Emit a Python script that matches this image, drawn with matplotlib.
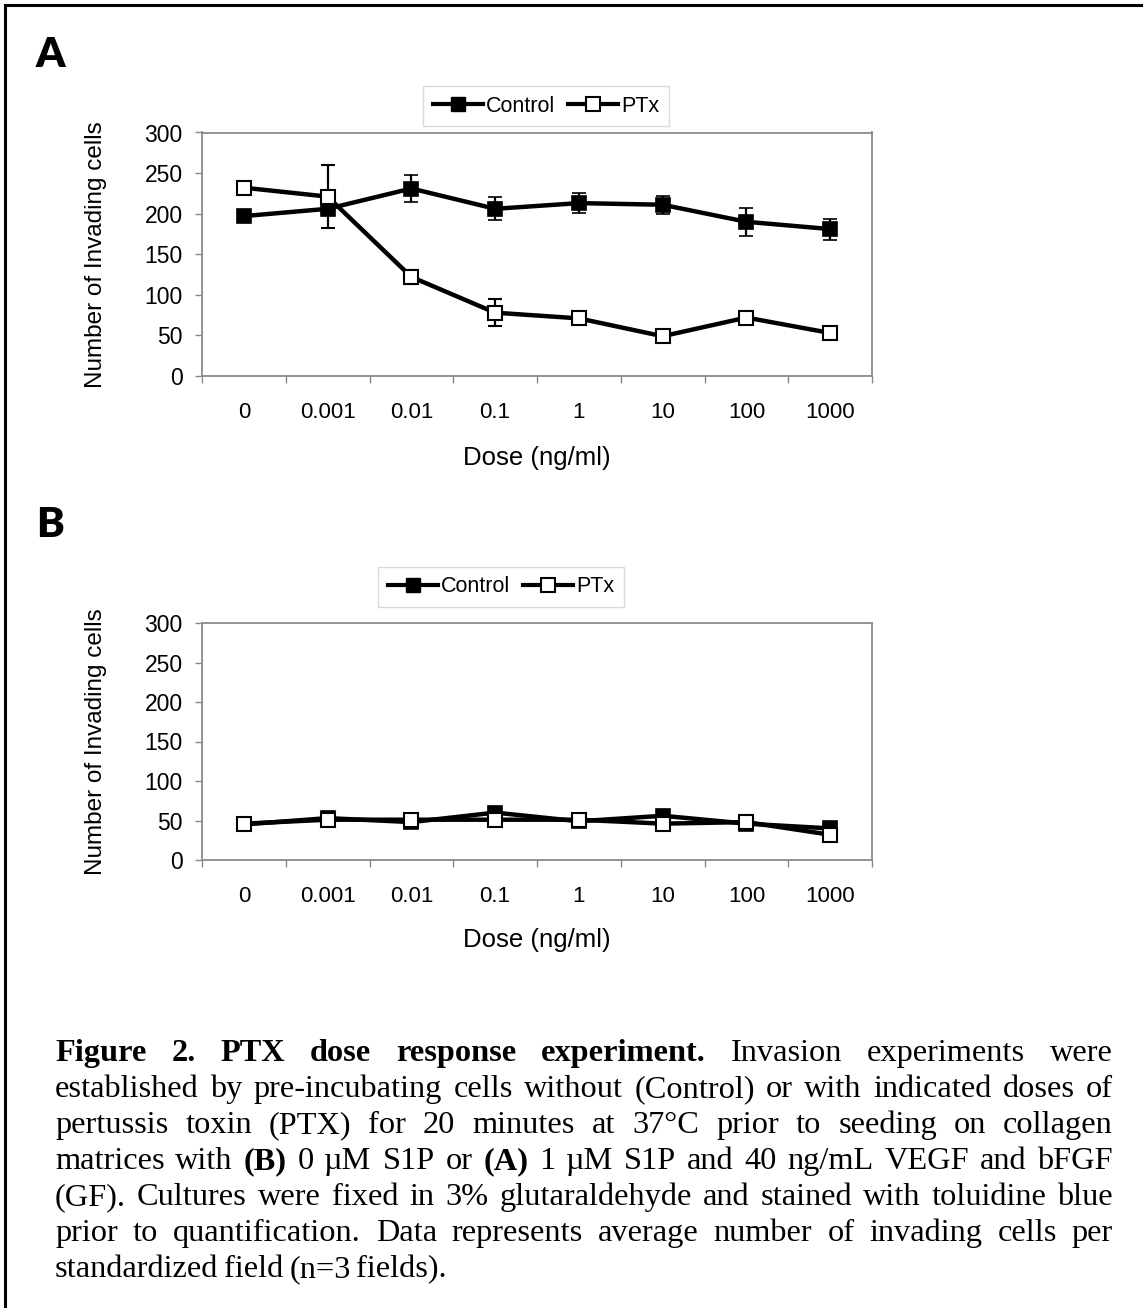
import matplotlib
matplotlib.use("Agg")
from matplotlib import pyplot as plt
from matplotlib.patches import Rectangle
from matplotlib.lines import Line2D
from matplotlib.ticker import FixedLocator, NullFormatter
import numpy as np

doses = ["0", "0.001", "0.01", "0.1", "1", "10", "100", "1000"]

# panel A (S1P + GF)
ctrl_a = [197, 206, 231, 206, 213, 211, 190, 181]
ctrl_a_err = [4, 8, 17, 14, 12, 11, 17, 13]
ptx_a = [232, 221, 122, 78, 71, 49, 72, 53]
ptx_a_err = [4, 39, 9, 17, 4, 4, 4, 4]

# panel B (no S1P)
ctrl_b = [45, 53, 48, 60, 49, 56, 46, 40]
ctrl_b_err = [3, 3, 3, 3, 3, 3, 3, 3]
ptx_b = [46, 51, 51, 51, 51, 46, 48, 32]
ptx_b_err = [3, 3, 3, 3, 3, 3, 3, 3]

W, H = 1143, 1308
fig = plt.figure(figsize=(W / 100, H / 100), dpi=100)
plt.rcParams["font.family"] = ["Liberation Sans", "DejaVu Sans"]

# outer border (only top and left are inside the picture)
fig.add_artist(Rectangle((4.5 / W, -0.02), 1.2, 1 - 4.5 / H + 0.02, transform=fig.transFigure,
                         fill=False, edgecolor="black", linewidth=2.2))


def panel(rect, ctrl, ctrl_err, ptx, ptx_err, leg_xy):
    ax = fig.add_axes(rect)
    x = np.arange(len(doses)) + 0.5
    ax.errorbar(x, ctrl, yerr=ctrl_err, color="black", lw=3.2, marker="s", ms=10.5,
                mfc="black", mec="black", mew=1.2, ecolor="black", elinewidth=1.6,
                capsize=5, capthick=1.6, zorder=3)
    ax.errorbar(x, ptx, yerr=ptx_err, color="black", lw=3.2, marker="s", ms=10.5,
                mfc="white", mec="black", mew=1.5, ecolor="black", elinewidth=1.6,
                capsize=5, capthick=1.6, zorder=4)
    ax.set_xlim(0, len(doses))
    ax.set_ylim(0, 300)
    ax.set_yticks(range(0, 301, 50))
    ax.xaxis.set_major_locator(FixedLocator(np.arange(len(doses) + 1)))
    ax.xaxis.set_major_formatter(NullFormatter())
    ax.set_xticks(x, minor=True)
    ax.set_xticklabels(doses, minor=True)
    ax.tick_params(axis="x", which="minor", length=0, pad=19, labelsize=16)
    ax.tick_params(axis="x", which="major", length=5, color="#8a8a8a", width=1)
    ax.tick_params(axis="y", length=5, color="#8a8a8a", width=1, pad=9, labelsize=16.5)
    for s in ax.spines.values():
        s.set_color("#8a8a8a")
        s.set_linewidth(1.3)
    ax.set_ylabel("Number of Invading cells", fontsize=17.5)
    ax.yaxis.set_label_coords(-0.142, 0.5)
    ax.set_xlabel("Dose (ng/ml)", fontsize=18.5)
    ax.xaxis.set_label_coords(0.5, -0.337)
    ax.xaxis.label.set_va("center")
    hc = Line2D([], [], color="black", lw=3, marker="s", ms=10, mfc="black", mec="black")
    hp = Line2D([], [], color="black", lw=3, marker="s", ms=10, mfc="white", mec="black", mew=1.5)
    leg = ax.legend([hc, hp], ["Control", "PTx"], loc="center", ncol=2,
                    bbox_to_anchor=leg_xy, bbox_transform=fig.transFigure,
                    fontsize=15.5, frameon=True, fancybox=False, edgecolor="#d0d0d0",
                    handlelength=2.3, handletextpad=0.15, columnspacing=0.6,
                    borderpad=0.45, borderaxespad=0)
    leg.get_frame().set_linewidth(1.0)
    return ax


axA = panel([202 / W, 1 - 376 / H, 670 / W, 243.5 / H], ctrl_a, ctrl_a_err, ptx_a, ptx_a_err,
            (546 / W, 1 - 106 / H))
axB = panel([202 / W, 1 - 860 / H, 670 / W, 237 / H], ctrl_b, ctrl_b_err, ptx_b, ptx_b_err,
            (501 / W, 1 - 587 / H))

fig.text(36 / W, 1 - 67 / H, "A", fontsize=30, fontweight="heavy", family=["Lato", "DejaVu Sans"],
         va="baseline", ha="left")
fig.text(36 / W, 1 - 537 / H, "B", fontsize=30, fontweight="heavy", family=["Lato", "DejaVu Sans"],
         va="baseline", ha="left")

# caption, justified by hand
caption = [
    [("Figure", 1), ("2.", 1), ("PTX", 1), ("dose", 1), ("response", 1), ("experiment.", 1),
     ("Invasion", 0), ("experiments", 0), ("were", 0)],
    [(w, 0) for w in "established by pre-incubating cells without (Control) or with indicated doses of".split()],
    [(w, 0) for w in "pertussis toxin (PTX) for 20 minutes at 37°C prior to seeding on collagen".split()],
    [("matrices", 0), ("with", 0), ("(B)", 1), ("0", 0), ("µM", 0), ("S1P", 0), ("or", 0), ("(A)", 1),
     ("1", 0), ("µM", 0), ("S1P", 0), ("and", 0), ("40", 0), ("ng/mL", 0), ("VEGF", 0), ("and", 0),
     ("bFGF", 0)],
    [(w, 0) for w in "(GF). Cultures were fixed in 3% glutaraldehyde and stained with toluidine blue".split()],
    [(w, 0) for w in "prior to quantification. Data represents average number of invading cells per".split()],
    [(w, 0) for w in "standardized field (n=3 fields).".split()],
]
x0, x1 = 55, 1113
renderer = fig.canvas.get_renderer()
for i, line in enumerate(caption):
    y = 1 - (1061 + 36 * i) / H
    texts = []
    for word, bold in line:
        t = fig.text(0, y, word, fontsize=23.3, family=["Liberation Serif", "DejaVu Serif"],
                     fontweight="bold" if bold else "normal", va="baseline", ha="left")
        texts.append(t)
    widths = [t.get_window_extent(renderer).width for t in texts]
    if i < len(caption) - 1:
        gap = (x1 - x0 - sum(widths)) / (len(texts) - 1)
    else:
        gap = 5.8
    pos = x0
    for t, w in zip(texts, widths):
        t.set_x(pos / W)
        pos += w + gap

fig.savefig("out.png", dpi=100)
